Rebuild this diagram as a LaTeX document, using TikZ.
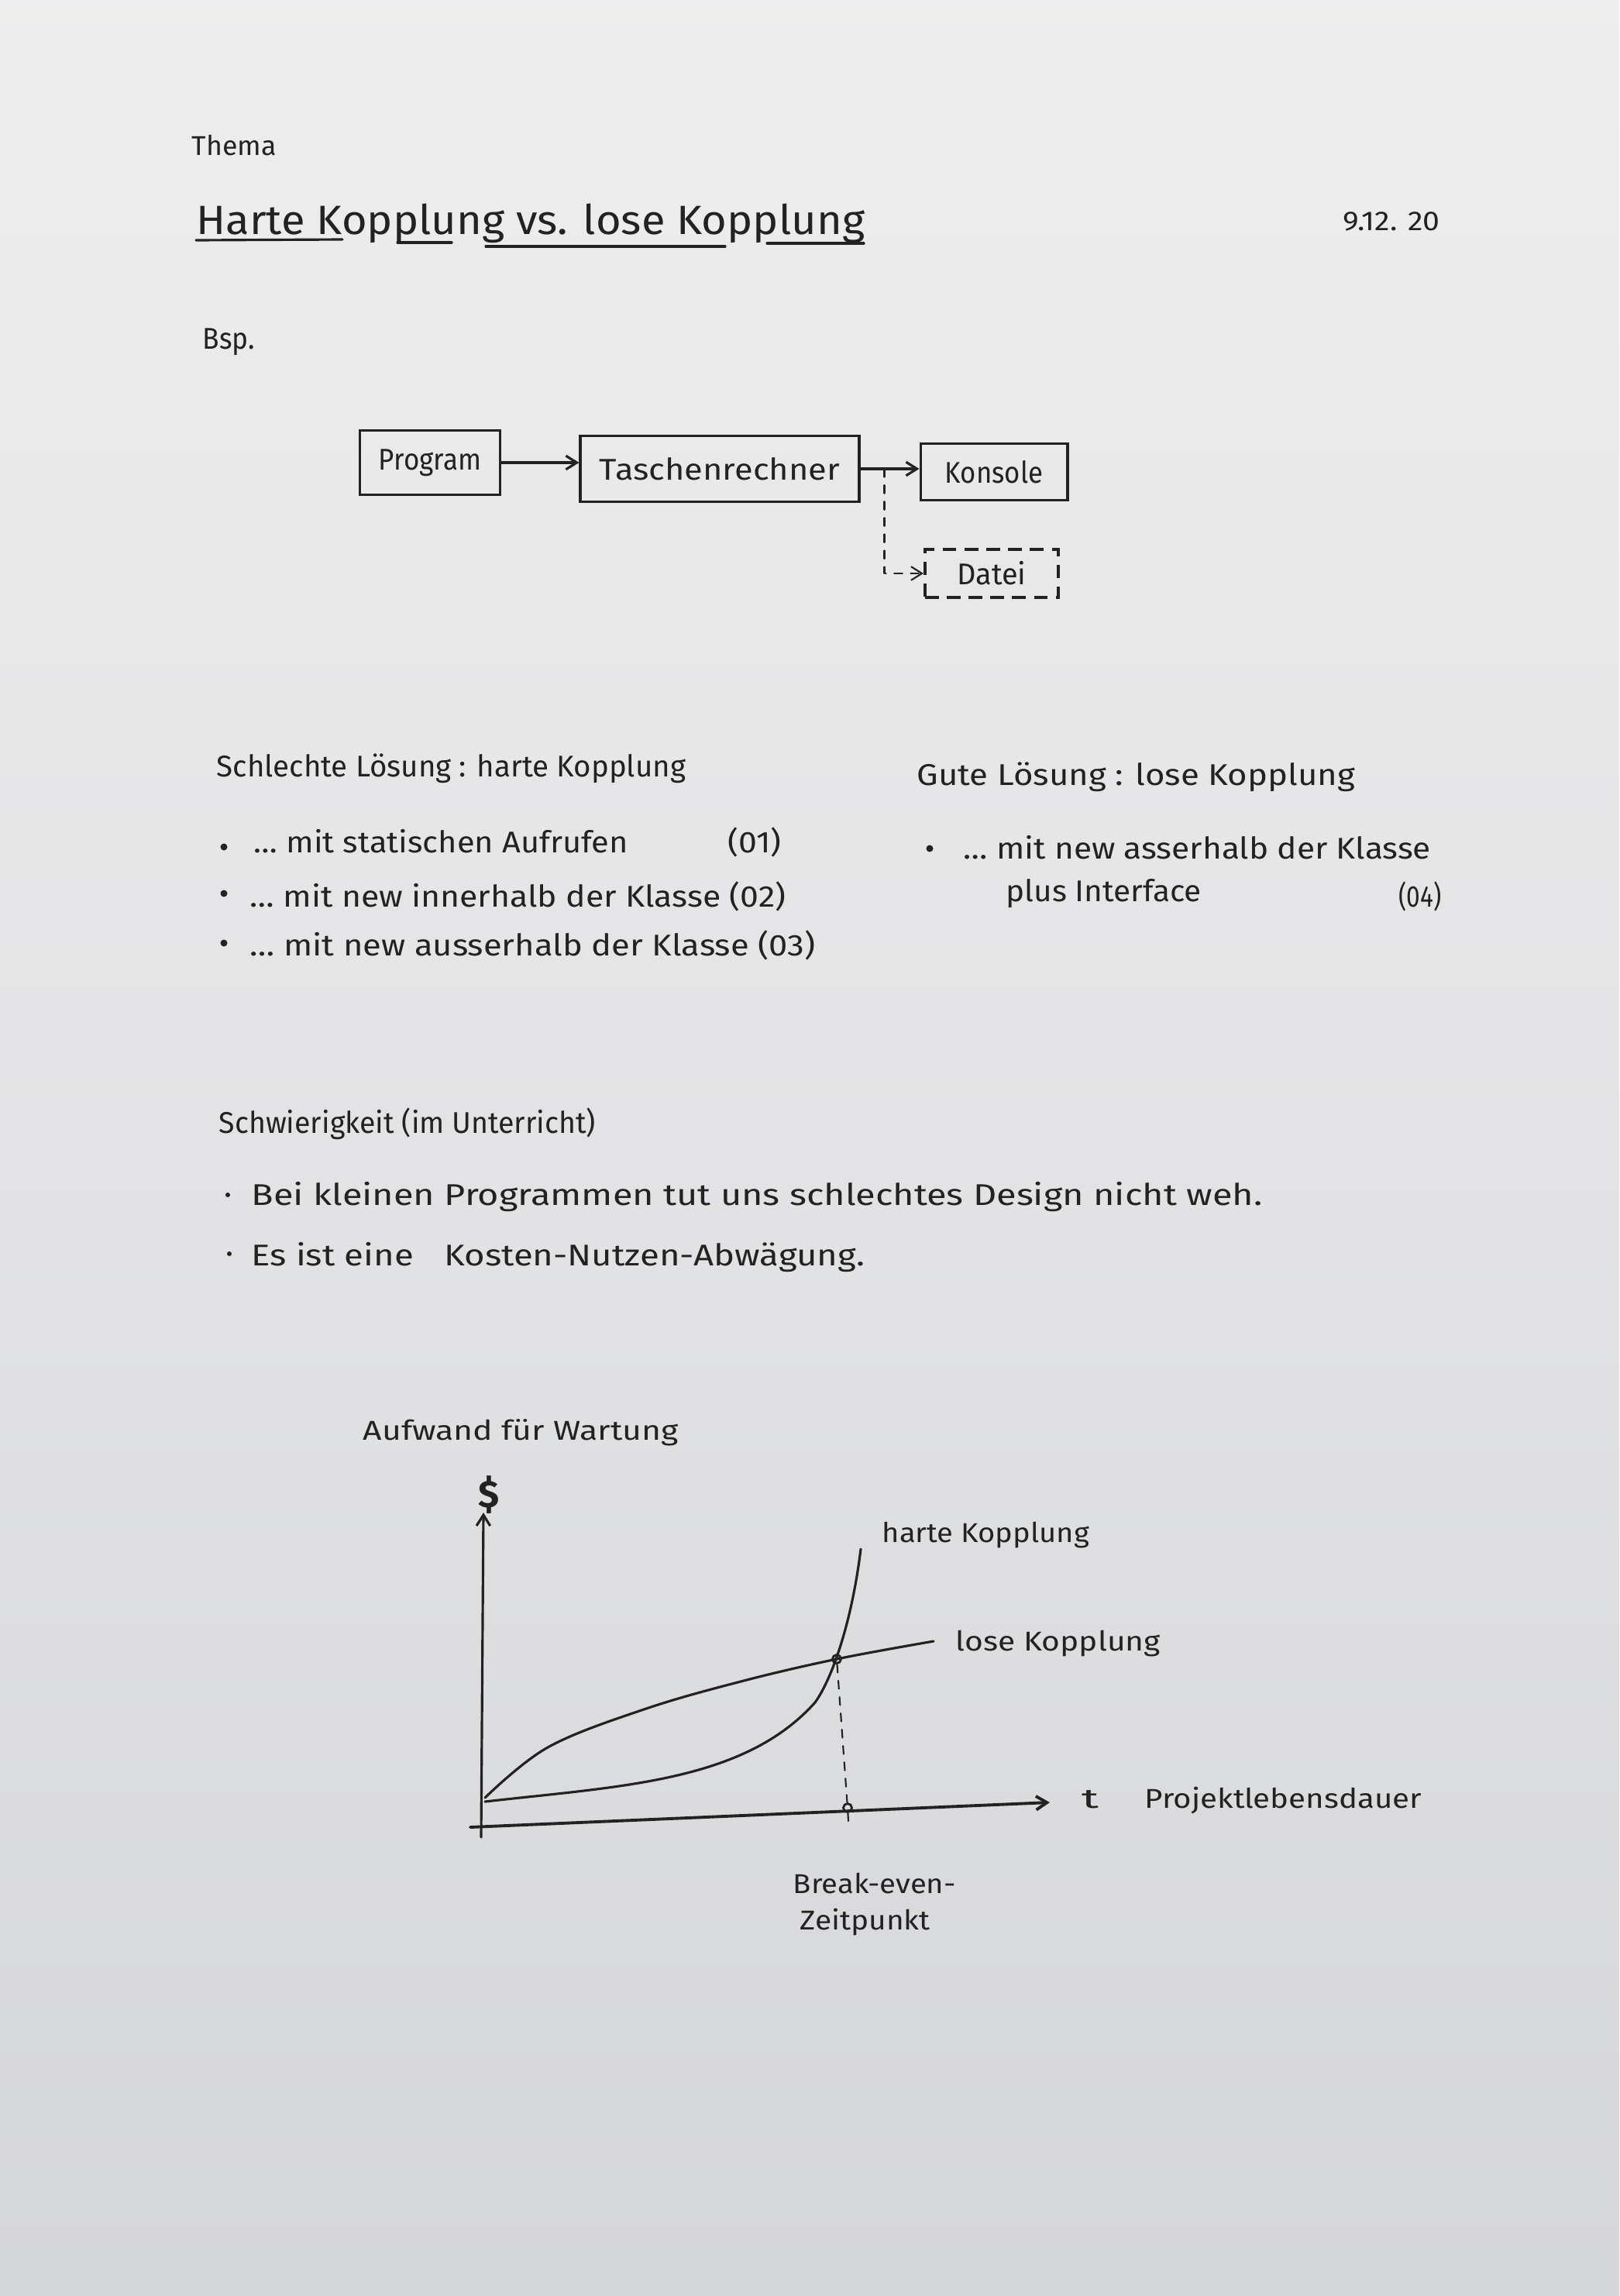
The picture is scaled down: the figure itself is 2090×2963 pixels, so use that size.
\documentclass[tikz,border=0pt]{standalone}
\usepackage{fontspec}
\setmainfont{Fira Sans}
\usepackage{graphicx}
\usetikzlibrary{arrows.meta,calc}
\definecolor{ink}{HTML}{222222}
\definecolor{ptop}{HTML}{F2F2F1}
\definecolor{pmid}{HTML}{E3E3E5}
\definecolor{plow}{HTML}{D2D3D7}
\definecolor{pbot}{HTML}{BCBEC3}
\pgfdeclareverticalshading{paper}{100bp}{color(0bp)=(pbot); color(20bp)=(plow); color(50bp)=(pmid); color(85bp)=(ptop); color(100bp)=(ptop)}
% stretch a text horizontally to a given width, keeping its height
\newcommand{\fw}[2]{\resizebox{#1}{\height}{#2}}

\begin{document}
\begin{tikzpicture}[x=0.01cm,y=-0.01cm,
  txt/.style={inner sep=0pt,anchor=base west,text=ink,font=\fontsize{10}{12}\selectfont},
  item/.style={txt,font=\fontsize{11}{13}\selectfont},
  head/.style={txt,font=\fontsize{11}{13}\selectfont},
  box/.style={draw=ink,line width=1.1pt,inner sep=0pt,text=ink,font=\fontsize{11}{13}\selectfont},
  pen/.style={draw=ink,line width=0.9pt,line cap=round,line join=round},
  tip/.style={-{Straight Barb[length=4pt,width=5pt]}},
  dot/.style={circle,fill=ink,inner sep=0pt,minimum size=0.09cm},
  ring/.style={circle,draw=ink,line width=0.8pt,inner sep=0pt,minimum size=0.11cm}
]
\shade[shading=paper] (0,0) rectangle (2090,2963);
\useasboundingbox (0,0) rectangle (2090,2963);

% header
\node[txt] (thema) at (247,200) {\fw{1.09cm}{Thema}};
\node[txt,font=\fontsize{15}{18}\selectfont] (titel) at (253,302) {\fw{8.62cm}{Harte Kopplung vs. lose Kopplung}};
\draw[pen] (253,310) -- (442,309);
\draw[pen] (513,313) -- (583,313);
\draw[pen] (627,318) -- (936,318);
\draw[pen] (990,314) -- (1115,314);
\node[txt] (datum) at (1733,297) {\fw{1.25cm}{9.12. 20}};
\node[head] (bsp) at (261,450) {\fw{0.67cm}{Bsp.}};

% example boxes
\node[box,minimum width=1.81cm,minimum height=0.83cm] (prog) at (555,597) {\fw{1.32cm}{Program}};
\node[box,minimum width=3.59cm,minimum height=0.85cm] (tr) at (929,605) {\fw{3.10cm}{Taschenrechner}};
\node[box,minimum width=1.89cm,minimum height=0.73cm] (kon) at (1283,609) {\fw{1.26cm}{Konsole}};
\node[box,dash pattern=on 5pt off 3pt,minimum width=1.72cm,minimum height=0.62cm] (datei) at (1280,740) {\fw{0.89cm}{Datei}};
\draw[pen,tip] (prog.east) -- (prog.east -| tr.west);
\draw[pen,tip] (tr.east) -- (tr.east -| kon.west);
\coordinate (abzw) at ($(tr.east)+(31,0)$);
\draw[pen,tip,dashed,line width=0.6pt] (abzw) |- (datei.west);

% bad solution
\node[head] (schlecht) at (279,1002) {\fw{6.05cm}{Schlechte Lösung : harte Kopplung}};
\node[dot] (b1) at (289,1093) {};
\node[item] (s1) at (327,1100) {\fw{4.83cm}{… mit statischen Aufrufen}};
\node[item] (n1) at (939,1100) {\fw{0.69cm}{(01)}};
\node[dot] (b2) at (289,1153) {};
\node[item] (s2) at (322,1170) {\fw{6.91cm}{… mit new innerhalb der Klasse (02)}};
\node[dot] (b3) at (289,1217) {};
\node[item] (s3) at (322,1233) {\fw{7.29cm}{… mit new ausserhalb der Klasse (03)}};

% good solution
\node[head] (gut) at (1183,1013) {\fw{5.65cm}{Gute Lösung : lose Kopplung}};
\node[dot] (b4) at (1200,1095) {};
\node[item] (s4) at (1243,1108) {\fw{6.03cm}{… mit new asserhalb der Klasse}};
\node[item] (s5) at (1298,1163) {\fw{2.52cm}{plus Interface}};
\node[item] (n4) at (1805,1170) {\fw{0.55cm}{(04)}};

% difficulty
\node[head] (schwer) at (282,1462) {\fw{4.86cm}{Schwierigkeit (im Unterricht)}};
\node[dot,minimum size=0.06cm] (b5) at (294,1542) {};
\node[item] (s6) at (324,1555) {\fw{13.04cm}{Bei kleinen Programmen tut uns schlechtes Design nicht weh.}};
\node[dot,minimum size=0.06cm] (b6) at (296,1618) {};
\node[item] (s7) at (324,1633) {\fw{7.91cm}{Es ist eine \hspace{0.6em}Kosten-Nutzen-Abwägung.}};

% maintenance cost diagram
\node[txt] (aufwand) at (468,1858) {\fw{4.07cm}{Aufwand für Wartung}};
\node[txt,anchor=center,font=\fontsize{14}{16}\selectfont\bfseries] (dollar) at (631,1929) {\$};
\coordinate (yb) at (621,2371);
\coordinate (yt) at (624,1952);
\draw[pen,tip] (yb) -- (yt);
\coordinate (xa) at (607,2358);
\coordinate (xe) at (1355,2326);
\draw[pen,tip,line width=1.1pt] (xa) -- (xe);
\node[txt] (t) at (1396,2333) {\fw{0.22cm}{t}};
\node[txt] (dauer) at (1477,2333) {\fw{3.57cm}{Projektlebensdauer}};

% cost curves
\draw[pen] plot[smooth,tension=0.6] coordinates {(626,2320) (707,2255) (831,2206) (956,2170) (1080,2141) (1205,2118)};
\draw[pen] (626,2325) .. controls (800,2305) and (960,2300) .. (1052,2197)
  .. controls (1075,2165) and (1100,2090) .. (1111,1999);
\node[ring] (bep) at (1080,2141) {};
\node[ring] (bet) at (1094,2333) {};
\draw[pen,dashed,line width=0.6pt] (bep) -- (bet) -- ($(bet)+(1,17)$);

\node[txt] (hart) at (1138,1990) {\fw{2.67cm}{harte Kopplung}};
\node[txt] (lose) at (1233,2130) {\fw{2.64cm}{lose Kopplung}};
\node[txt] (be1) at (1023,2443) {\fw{2.10cm}{Break-even-}};
\node[txt] (be2) at (1032,2490) {\fw{1.68cm}{Zeitpunkt}};
\end{tikzpicture}
\end{document}
